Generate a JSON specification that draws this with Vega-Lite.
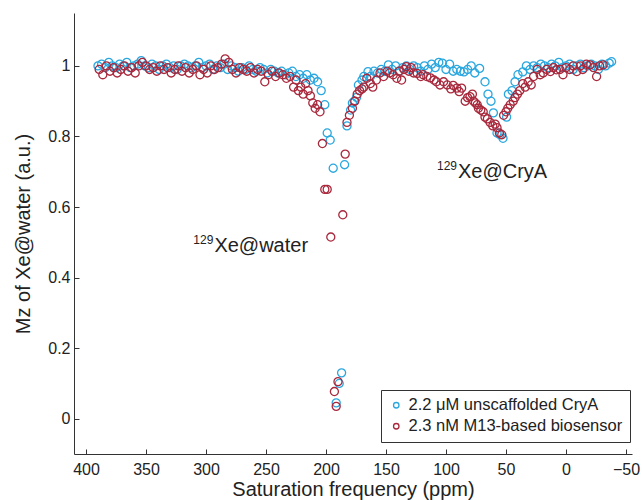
{
  "$schema": "https://vega.github.io/schema/vega-lite/v6.json",
  "width": 558,
  "height": 441,
  "autosize": {"type": "none"},
  "padding": {"left": 74, "top": 13, "right": 10, "bottom": 46},
  "background": "white",
  "config": {
    "view": {"stroke": null},
    "font": "Liberation Sans",
    "axis": {"domainColor": "#333333", "tickColor": "#333333", "labelColor": "#222222", "titleColor": "#222222", "grid": false, "tickSize": -5, "labelFontSize": 16, "titleFontSize": 20, "titleFontWeight": "normal"}
  },
  "datasets": {
    "pts": [
      {"s":"b","x":390,"y":1.0},{"s":"b","x":387,"y":1.005},{"s":"b","x":384,"y":0.995},{"s":"b","x":381,"y":1.01},{"s":"b","x":378,"y":1.0},{"s":"b","x":375,"y":0.995},{"s":"b","x":372,"y":1.005},{"s":"b","x":369,"y":1.0},{"s":"b","x":366,"y":1.01},{"s":"b","x":363,"y":0.995},{"s":"b","x":360,"y":1.0},{"s":"b","x":357,"y":1.005},{"s":"b","x":354,"y":1.015},{"s":"b","x":351,"y":1.0},{"s":"b","x":348,"y":0.995},{"s":"b","x":345,"y":1.005},{"s":"b","x":342,"y":1.0},{"s":"b","x":339,"y":0.99},{"s":"b","x":336,"y":1.0},{"s":"b","x":333,"y":1.005},{"s":"b","x":330,"y":0.995},{"s":"b","x":327,"y":1.0},{"s":"b","x":324,"y":0.99},{"s":"b","x":321,"y":1.0},{"s":"b","x":318,"y":1.005},{"s":"b","x":315,"y":1.0},{"s":"b","x":312,"y":0.995},{"s":"b","x":309,"y":1.0},{"s":"b","x":306,"y":1.01},{"s":"b","x":303,"y":0.995},{"s":"b","x":300,"y":1.0},{"s":"b","x":297,"y":1.005},{"s":"b","x":294,"y":0.99},{"s":"b","x":291,"y":1.0},{"s":"b","x":288,"y":0.995},{"s":"b","x":285,"y":1.005},{"s":"b","x":282,"y":0.99},{"s":"b","x":279,"y":1.0},{"s":"b","x":276,"y":0.995},{"s":"b","x":273,"y":0.985},{"s":"b","x":270,"y":0.995},{"s":"b","x":267,"y":0.99},{"s":"b","x":264,"y":1.0},{"s":"b","x":261,"y":0.99},{"s":"b","x":258,"y":0.985},{"s":"b","x":255,"y":0.995},{"s":"b","x":252,"y":0.99},{"s":"b","x":249,"y":0.98},{"s":"b","x":246,"y":0.99},{"s":"b","x":243,"y":0.985},{"s":"b","x":240,"y":0.98},{"s":"b","x":237,"y":0.985},{"s":"b","x":234,"y":0.975},{"s":"b","x":231,"y":0.98},{"s":"b","x":228,"y":0.985},{"s":"b","x":225,"y":0.97},{"s":"b","x":222,"y":0.975},{"s":"b","x":219,"y":0.965},{"s":"b","x":216,"y":0.975},{"s":"b","x":213,"y":0.96},{"s":"b","x":210,"y":0.965},{"s":"b","x":207,"y":0.955},{"s":"b","x":204,"y":0.93},{"s":"b","x":201,"y":0.89},{"s":"b","x":199,"y":0.81},{"s":"b","x":196.5,"y":0.79},{"s":"b","x":194,"y":0.71},{"s":"b","x":191.5,"y":0.045},{"s":"b","x":189,"y":0.1},{"s":"b","x":187,"y":0.13},{"s":"b","x":184.5,"y":0.72},{"s":"b","x":182.5,"y":0.83},{"s":"b","x":179.5,"y":0.875},{"s":"b","x":178,"y":0.895},{"s":"b","x":176.5,"y":0.9},{"s":"b","x":174.5,"y":0.911},{"s":"b","x":173,"y":0.946},{"s":"b","x":170,"y":0.96},{"s":"b","x":168.5,"y":0.97},{"s":"b","x":165,"y":0.984},{"s":"b","x":163,"y":0.97},{"s":"b","x":160,"y":0.985},{"s":"b","x":157,"y":0.98},{"s":"b","x":154,"y":0.99},{"s":"b","x":151,"y":0.985},{"s":"b","x":148,"y":1.003},{"s":"b","x":145,"y":0.99},{"s":"b","x":142,"y":1.0},{"s":"b","x":139,"y":0.985},{"s":"b","x":136,"y":0.995},{"s":"b","x":133,"y":1.0},{"s":"b","x":130,"y":0.99},{"s":"b","x":127,"y":1.0},{"s":"b","x":124,"y":0.995},{"s":"b","x":121,"y":0.985},{"s":"b","x":118,"y":1.0},{"s":"b","x":115,"y":0.99},{"s":"b","x":112,"y":1.005},{"s":"b","x":109,"y":0.995},{"s":"b","x":106,"y":1.01},{"s":"b","x":103,"y":1.008},{"s":"b","x":100,"y":0.99},{"s":"b","x":97,"y":1.005},{"s":"b","x":94,"y":0.985},{"s":"b","x":91,"y":0.99},{"s":"b","x":88,"y":0.985},{"s":"b","x":85,"y":0.983},{"s":"b","x":82,"y":0.99},{"s":"b","x":79,"y":1.0},{"s":"b","x":76,"y":0.98},{"s":"b","x":72,"y":0.993},{"s":"b","x":67.5,"y":0.955},{"s":"b","x":65,"y":0.92},{"s":"b","x":62.5,"y":0.9},{"s":"b","x":60.5,"y":0.867},{"s":"b","x":57.5,"y":0.81},{"s":"b","x":55,"y":0.805},{"s":"b","x":52.5,"y":0.795},{"s":"b","x":49.5,"y":0.855},{"s":"b","x":48,"y":0.92},{"s":"b","x":45,"y":0.93},{"s":"b","x":42.5,"y":0.955},{"s":"b","x":40,"y":0.975},{"s":"b","x":36,"y":0.983},{"s":"b","x":33,"y":1.0},{"s":"b","x":30,"y":0.99},{"s":"b","x":27,"y":1.0},{"s":"b","x":24,"y":0.995},{"s":"b","x":21,"y":1.005},{"s":"b","x":18,"y":1.0},{"s":"b","x":15,"y":0.995},{"s":"b","x":12,"y":1.005},{"s":"b","x":9,"y":1.0},{"s":"b","x":6,"y":1.01},{"s":"b","x":3,"y":0.995},{"s":"b","x":0,"y":1.0},{"s":"b","x":-3,"y":1.005},{"s":"b","x":-6,"y":0.99},{"s":"b","x":-9,"y":1.0},{"s":"b","x":-12,"y":1.005},{"s":"b","x":-15,"y":0.995},{"s":"b","x":-18,"y":1.0},{"s":"b","x":-21,"y":1.005},{"s":"b","x":-24,"y":1.0},{"s":"b","x":-27,"y":0.99},{"s":"b","x":-30,"y":1.005},{"s":"b","x":-33,"y":1.0},{"s":"b","x":-36,"y":1.008},{"s":"b","x":-38,"y":1.012},
      {"s":"r","x":389,"y":0.99},{"s":"r","x":386,"y":0.975},{"s":"r","x":383,"y":1.0},{"s":"r","x":380,"y":0.985},{"s":"r","x":377,"y":0.995},{"s":"r","x":374,"y":0.98},{"s":"r","x":371,"y":0.99},{"s":"r","x":368,"y":1.0},{"s":"r","x":365,"y":0.985},{"s":"r","x":362,"y":0.995},{"s":"r","x":359,"y":0.98},{"s":"r","x":356,"y":1.0},{"s":"r","x":353,"y":1.01},{"s":"r","x":350,"y":1.0},{"s":"r","x":347,"y":0.99},{"s":"r","x":344,"y":0.995},{"s":"r","x":341,"y":0.985},{"s":"r","x":338,"y":1.0},{"s":"r","x":335,"y":0.99},{"s":"r","x":332,"y":0.995},{"s":"r","x":329,"y":0.98},{"s":"r","x":326,"y":0.99},{"s":"r","x":323,"y":1.0},{"s":"r","x":320,"y":0.985},{"s":"r","x":317,"y":0.995},{"s":"r","x":314,"y":0.98},{"s":"r","x":311,"y":0.99},{"s":"r","x":308,"y":1.0},{"s":"r","x":305,"y":0.975},{"s":"r","x":302,"y":0.99},{"s":"r","x":299,"y":0.98},{"s":"r","x":296,"y":1.0},{"s":"r","x":293,"y":0.99},{"s":"r","x":290,"y":0.995},{"s":"r","x":287,"y":1.005},{"s":"r","x":284,"y":1.02},{"s":"r","x":281,"y":1.01},{"s":"r","x":278,"y":0.99},{"s":"r","x":275,"y":0.98},{"s":"r","x":272,"y":0.995},{"s":"r","x":269,"y":0.99},{"s":"r","x":266,"y":0.985},{"s":"r","x":263,"y":0.995},{"s":"r","x":260,"y":0.98},{"s":"r","x":257,"y":0.99},{"s":"r","x":254,"y":0.985},{"s":"r","x":251,"y":0.955},{"s":"r","x":248,"y":0.975},{"s":"r","x":245,"y":0.985},{"s":"r","x":242,"y":0.97},{"s":"r","x":239,"y":0.98},{"s":"r","x":236,"y":0.975},{"s":"r","x":233,"y":0.965},{"s":"r","x":230,"y":0.97},{"s":"r","x":227,"y":0.94},{"s":"r","x":225,"y":0.96},{"s":"r","x":223,"y":0.93},{"s":"r","x":221,"y":0.94},{"s":"r","x":219,"y":0.92},{"s":"r","x":217,"y":0.95},{"s":"r","x":215,"y":0.93},{"s":"r","x":213,"y":0.915},{"s":"r","x":211,"y":0.895},{"s":"r","x":209,"y":0.88},{"s":"r","x":207,"y":0.89},{"s":"r","x":205,"y":0.87},{"s":"r","x":203,"y":0.78},{"s":"r","x":201,"y":0.65},{"s":"r","x":199,"y":0.65},{"s":"r","x":196,"y":0.515},{"s":"r","x":193,"y":0.077},{"s":"r","x":191.5,"y":0.035},{"s":"r","x":190,"y":0.105},{"s":"r","x":186,"y":0.578},{"s":"r","x":184,"y":0.75},{"s":"r","x":182.5,"y":0.84},{"s":"r","x":180.5,"y":0.86},{"s":"r","x":178,"y":0.88},{"s":"r","x":176,"y":0.9},{"s":"r","x":174,"y":0.92},{"s":"r","x":172,"y":0.93},{"s":"r","x":170,"y":0.935},{"s":"r","x":168.5,"y":0.94},{"s":"r","x":166,"y":0.965},{"s":"r","x":163,"y":0.95},{"s":"r","x":161,"y":0.94},{"s":"r","x":158,"y":0.96},{"s":"r","x":155,"y":0.98},{"s":"r","x":152,"y":0.97},{"s":"r","x":149,"y":0.985},{"s":"r","x":147,"y":0.98},{"s":"r","x":144,"y":0.975},{"s":"r","x":141,"y":0.965},{"s":"r","x":139,"y":0.985},{"s":"r","x":137,"y":0.96},{"s":"r","x":135,"y":0.99},{"s":"r","x":133,"y":0.998},{"s":"r","x":131,"y":0.985},{"s":"r","x":129,"y":0.995},{"s":"r","x":127,"y":0.98},{"s":"r","x":124,"y":0.979},{"s":"r","x":121,"y":0.97},{"s":"r","x":119,"y":0.975},{"s":"r","x":116,"y":0.97},{"s":"r","x":113,"y":0.966},{"s":"r","x":110,"y":0.96},{"s":"r","x":108,"y":0.955},{"s":"r","x":105,"y":0.946},{"s":"r","x":102,"y":0.955},{"s":"r","x":99,"y":0.946},{"s":"r","x":96,"y":0.935},{"s":"r","x":94,"y":0.945},{"s":"r","x":91,"y":0.937},{"s":"r","x":89,"y":0.927},{"s":"r","x":87,"y":0.937},{"s":"r","x":84,"y":0.9},{"s":"r","x":82,"y":0.91},{"s":"r","x":80,"y":0.913},{"s":"r","x":78,"y":0.92},{"s":"r","x":77,"y":0.9},{"s":"r","x":75.5,"y":0.895},{"s":"r","x":74,"y":0.89},{"s":"r","x":73,"y":0.88},{"s":"r","x":71,"y":0.875},{"s":"r","x":69,"y":0.87},{"s":"r","x":67.5,"y":0.855},{"s":"r","x":65.5,"y":0.85},{"s":"r","x":63.3,"y":0.84},{"s":"r","x":61,"y":0.83},{"s":"r","x":59,"y":0.835},{"s":"r","x":57.5,"y":0.825},{"s":"r","x":55.5,"y":0.81},{"s":"r","x":53.5,"y":0.805},{"s":"r","x":52,"y":0.86},{"s":"r","x":50,"y":0.87},{"s":"r","x":48.5,"y":0.88},{"s":"r","x":46.5,"y":0.89},{"s":"r","x":44,"y":0.9},{"s":"r","x":42.5,"y":0.91},{"s":"r","x":40.5,"y":0.92},{"s":"r","x":38.5,"y":0.93},{"s":"r","x":36,"y":0.95},{"s":"r","x":34,"y":0.94},{"s":"r","x":31.5,"y":0.955},{"s":"r","x":29,"y":0.946},{"s":"r","x":27,"y":0.97},{"s":"r","x":24,"y":0.99},{"s":"r","x":21.5,"y":0.975},{"s":"r","x":19,"y":0.98},{"s":"r","x":16,"y":0.99},{"s":"r","x":13,"y":0.984},{"s":"r","x":10.5,"y":0.995},{"s":"r","x":8,"y":0.989},{"s":"r","x":5,"y":0.99},{"s":"r","x":2.5,"y":0.975},{"s":"r","x":0,"y":0.995},{"s":"r","x":-3,"y":0.99},{"s":"r","x":-6,"y":1.0},{"s":"r","x":-9,"y":0.984},{"s":"r","x":-12,"y":1.0},{"s":"r","x":-14,"y":0.99},{"s":"r","x":-17,"y":1.005},{"s":"r","x":-20,"y":1.003},{"s":"r","x":-23,"y":0.995},{"s":"r","x":-25.5,"y":0.97},{"s":"r","x":-28,"y":1.0},{"s":"r","x":-31,"y":1.003}
    ],
    "notes": [
      {"label": "Xe@water", "sup": "129", "x": 293, "y": 0.473},
      {"label": "Xe@CryA", "sup": "129", "x": 90, "y": 0.683}
    ]
  },
  "layer": [
    {
      "data": {"name": "pts"},
      "mark": {"type": "point", "shape": "circle", "filled": false, "size": 65, "strokeWidth": 1.3, "opacity": 1},
      "encoding": {
        "x": {"field": "x", "type": "quantitative", "scale": {"domain": [-55, 410], "reverse": true, "nice": false, "zero": false},
              "axis": {"title": "Saturation frequency (ppm)", "values": [400, 350, 300, 250, 200, 150, 100, 50, 0, -50], "labelPadding": 12, "titlePadding": 2, "format": "d"}},
        "y": {"field": "y", "type": "quantitative", "scale": {"domain": [-0.1, 1.15], "nice": false, "zero": false},
              "axis": {"title": "Mᴢ of Xe@water (a.u.)", "values": [0, 0.2, 0.4, 0.6, 0.8, 1], "labelPadding": 9, "titlePadding": 14, "format": "~g"}},
        "color": {"field": "s", "type": "nominal",
                  "scale": {"domain": ["b", "r"], "range": ["#2aa7df", "#a8283c"]},
                  "legend": {"title": null, "orient": "none", "legendX": 307, "legendY": 377, "direction": "vertical",
                             "labelExpr": "datum.value == 'b' ? '2.2 μM unscaffolded CryA' : '2.3 nM M13-based biosensor'",
                             "labelFontSize": 16.5, "labelLimit": 400, "labelColor": "#222222", "symbolType": "circle", "symbolFillColor": "transparent", "symbolStrokeWidth": 1.3, "symbolSize": 30,
                             "strokeColor": "#333333", "fillColor": "white", "padding": 7, "rowPadding": 4, "labelOffset": 4}}
      }
    },
    {
      "data": {"name": "notes"},
      "mark": {"type": "text", "align": "left", "baseline": "alphabetic", "fontSize": 20, "color": "#222222"},
      "encoding": {"x": {"field": "x", "type": "quantitative"}, "y": {"field": "y", "type": "quantitative"}, "text": {"field": "label"}}
    },
    {
      "data": {"name": "notes"},
      "mark": {"type": "text", "align": "right", "baseline": "alphabetic", "fontSize": 12, "dy": -8, "dx": -1, "color": "#222222"},
      "encoding": {"x": {"field": "x", "type": "quantitative"}, "y": {"field": "y", "type": "quantitative"}, "text": {"field": "sup"}}
    }
  ]
}
